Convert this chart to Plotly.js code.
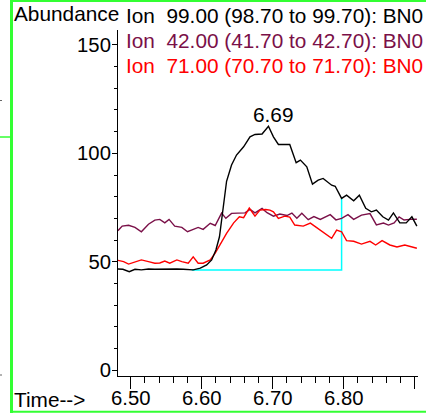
<!DOCTYPE html>
<html>
<head>
<meta charset="utf-8">
<script src="https://cdn.plot.ly/plotly-3.0.1.min.js"></script>
<style>
  html, body { margin: 0; padding: 0; background: #fff; }
  #chart { width: 426px; height: 413px; }
</style>
</head>
<body>
<div id="chart"></div>
<script>
// ---- Data ----
const ion99Time = [6.482, 6.489, 6.498, 6.506, 6.515, 6.525, 6.534, 6.544, 6.555, 6.565,
  6.574, 6.581, 6.588, 6.598, 6.607, 6.614, 6.620, 6.625, 6.628, 6.631,
  6.635, 6.642, 6.649, 6.659, 6.668, 6.675, 6.685, 6.694, 6.701, 6.708,
  6.716, 6.724, 6.733, 6.739, 6.748, 6.756, 6.764, 6.771, 6.783, 6.788,
  6.797, 6.804, 6.814, 6.822, 6.831, 6.839, 6.846, 6.855, 6.863, 6.870,
  6.879, 6.888, 6.896, 6.903];
const ion99Abund = [46.6, 46.5, 45.4, 46.5, 46.2, 46.6, 46.5, 46.6, 46.5, 46.6,
  46.5, 46.5, 46.2, 47.0, 48.5, 50.8, 55.4, 61.5, 69.2, 78.4,
  87.1, 94.6, 99.2, 103.0, 107.6, 108.7, 108.9, 112.5, 107.6, 104.1,
  104.1, 104.1, 95.7, 96.9, 93.8, 85.8, 87.6, 88.4, 85.3, 84.8,
  79.2, 80.7, 78.1, 80.7, 74.6, 73.0, 73.8, 70.7, 69.2, 72.5,
  67.9, 67.9, 70.7, 66.4];

const ion42Time = [6.482, 6.488, 6.497, 6.506, 6.515, 6.525, 6.534, 6.541, 6.548, 6.554,
  6.562, 6.572, 6.580, 6.588, 6.595, 6.602, 6.612, 6.619, 6.628, 6.634,
  6.642, 6.651, 6.661, 6.668, 6.675, 6.685, 6.692, 6.701, 6.710, 6.720,
  6.727, 6.734, 6.741, 6.750, 6.758, 6.767, 6.781, 6.789, 6.797, 6.806,
  6.814, 6.825, 6.837, 6.846, 6.856, 6.863, 6.871, 6.878, 6.885, 6.893,
  6.903];
const ion42Abund = [64.3, 66.4, 66.8, 65.8, 63.8, 67.3, 69.2, 69.5, 67.9, 69.5,
  66.4, 65.8, 63.8, 64.9, 65.8, 64.9, 67.7, 66.7, 72.4, 70.0,
  72.3, 72.4, 72.5, 74.1, 72.5, 74.6, 72.6, 71.0, 72.0, 71.3,
  72.4, 70.0, 72.3, 69.4, 70.8, 69.5, 71.7, 69.3, 70.0, 71.7,
  69.5, 71.5, 72.2, 67.0, 67.8, 66.9, 67.9, 70.7, 69.2, 69.5,
  69.6];

const ion71Time = [6.482, 6.490, 6.497, 6.506, 6.515, 6.525, 6.534, 6.541, 6.548, 6.555,
  6.565, 6.572, 6.581, 6.588, 6.595, 6.602, 6.612, 6.619, 6.628, 6.635,
  6.645, 6.653, 6.659, 6.667, 6.675, 6.682, 6.690, 6.696, 6.701, 6.708,
  6.717, 6.724, 6.731, 6.743, 6.753, 6.762, 6.771, 6.783, 6.790, 6.797,
  6.804, 6.814, 6.825, 6.837, 6.845, 6.854, 6.865, 6.875, 6.886, 6.903];
const ion71Abund = [50.6, 50.0, 48.9, 50.0, 50.8, 50.0, 49.3, 49.4, 50.3, 49.3,
  50.8, 50.0, 49.3, 52.2, 49.3, 49.3, 50.8, 53.9, 59.1, 63.1,
  67.9, 70.7, 70.3, 74.7, 71.0, 73.8, 74.1, 73.8, 73.0, 70.0,
  71.0, 70.6, 66.9, 66.4, 67.8, 65.8, 63.8, 60.8, 64.6, 63.8,
  59.7, 59.4, 58.1, 59.4, 57.7, 59.7, 57.7, 56.8, 57.7, 56.2];

// integration baseline (cyan)
const baseTime = [6.586, 6.797, 6.797];
const baseAbund = [46.2, 46.2, 79.2];

const peakTime = 6.70;
const peakLabel = "6.69";

const xTickVals = [6.50, 6.60, 6.70, 6.80, 6.90];
const xTickText = ["6.50", "6.60", "6.70", "6.80", ""];
const yTickVals = [0, 50, 100, 150];
const yTickText = ["0", "50", "100", "150"];

const legendLines = [
  { text: "Ion\u00A0\u00A099.00 (98.70 to 99.70): BN0", color: "#000000" },
  { text: "Ion\u00A0\u00A042.00 (41.70 to 42.70): BN0", color: "#7a1048" },
  { text: "Ion\u00A0\u00A071.00 (70.70 to 71.70): BN0", color: "#ff0000" }
];

// ---- Chart ----
const FONT = "Liberation Sans, Arial, Helvetica, sans-serif";
const TXT = 20.8;
const W = 426, H = 413, M = { l: 118, r: 8, t: 30, b: 37 };
const PW = W - M.l - M.r, PH = H - M.t - M.b;
const px = v => (v - M.l) / PW;          // pixel -> paper x
const py = v => (H - M.b - v) / PH;      // pixel -> paper y

const traces = [
  { x: baseTime, y: baseAbund, mode: "lines", line: { color: "#00ffff", width: 1.5 }, hoverinfo: "skip" },
  { x: ion42Time, y: ion42Abund, mode: "lines", line: { color: "#7a1048", width: 1.4 } },
  { x: ion71Time, y: ion71Abund, mode: "lines", line: { color: "#ff0000", width: 1.4 } },
  { x: ion99Time, y: ion99Abund, mode: "lines", line: { color: "#000000", width: 1.4 } }
];

const annotations = [
  { xref: "paper", yref: "paper", x: px(12), y: py(13.5), xanchor: "left", yanchor: "middle",
    text: "Abundance", showarrow: false, font: { family: FONT, size: TXT, color: "#000" } },
  { xref: "paper", yref: "paper", x: px(12), y: py(399.5), xanchor: "left", yanchor: "middle",
    text: "Time-->", showarrow: false, font: { family: FONT, size: TXT, color: "#000" } },
  { xref: "x", yref: "y", x: peakTime, y: 117.9, xanchor: "center", yanchor: "middle",
    text: peakLabel, showarrow: false, font: { family: FONT, size: TXT, color: "#000" } }
];
legendLines.forEach((l, i) => {
  annotations.push({ xref: "paper", yref: "paper", x: px(124), y: py(15.5 + 25 * i),
    xanchor: "left", yanchor: "middle", text: l.text, showarrow: false,
    font: { family: FONT, size: TXT, color: l.color } });
});

const green = "#33ff33";
const shapes = [
  { type: "line", xref: "paper", yref: "paper", x0: px(11.5), x1: px(11.5), y0: py(0), y1: py(413), line: { color: green, width: 3 } },
  { type: "line", xref: "paper", yref: "paper", x0: px(11.5), x1: px(430), y0: py(1), y1: py(1), line: { color: green, width: 2 } },
  { type: "line", xref: "paper", yref: "paper", x0: px(11.5), x1: px(430), y0: py(411.8), y1: py(411.8), line: { color: green, width: 2 } },
  { type: "line", xref: "paper", yref: "paper", x0: px(0), x1: px(10), y0: py(137), y1: py(137), line: { color: green, width: 1.5 } },
  { type: "line", xref: "paper", yref: "paper", x0: px(0), x1: px(2), y0: py(100.5), y1: py(100.5), line: { color: "#666", width: 1 } },
  { type: "line", xref: "paper", yref: "paper", x0: px(0), x1: px(2), y0: py(375), y1: py(375), line: { color: "#666", width: 1 } }
];

const axisCommon = {
  showgrid: false, zeroline: false, showline: true, linecolor: "#000", linewidth: 1,
  ticks: "outside", tickcolor: "#000", tickwidth: 1, tickmode: "array",
  tickfont: { family: FONT, size: 20.3, color: "#000" }, fixedrange: true
};

const layout = {
  width: W, height: H, margin: M,
  paper_bgcolor: "#fff", plot_bgcolor: "#fff", showlegend: false,
  xaxis: Object.assign({}, axisCommon, {
    range: [6.4821, 6.9046], tickvals: xTickVals, ticktext: xTickText, ticklen: 12,
    ticklabelstandoff: -8,
    minor: { tickmode: "linear", tick0: 6.5, dtick: 0.02, ticks: "outside", ticklen: 6, tickcolor: "#000", tickwidth: 1, showgrid: false }
  }),
  yaxis: Object.assign({}, axisCommon, {
    range: [-2.77, 156.92], tickvals: yTickVals, ticktext: yTickText, ticklen: 5,
    ticklabelstandoff: -3,
    minor: { tickmode: "linear", tick0: 0, dtick: 10, ticks: "outside", ticklen: 3, tickcolor: "#000", tickwidth: 1, showgrid: false }
  }),
  annotations: annotations,
  shapes: shapes
};

Plotly.newPlot("chart", traces, layout, { staticPlot: true, displayModeBar: false });
</script>
</body>
</html>
